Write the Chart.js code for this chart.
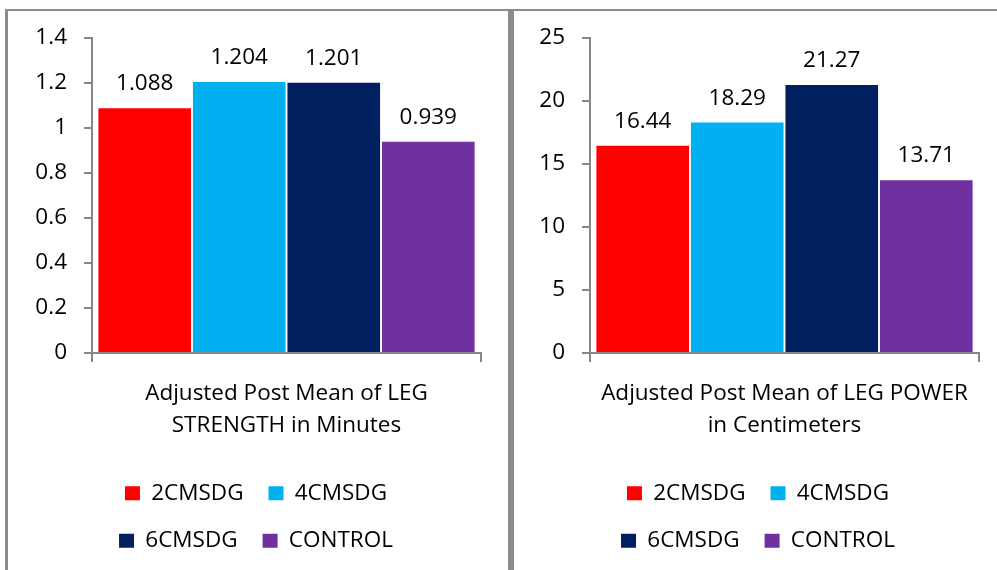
<!DOCTYPE html>
<html lang="en">
<head>
    <meta charset="UTF-8">
    <title>Leg strength and leg power</title>
    <style>
        body { margin: 0; background: #fff; overflow: hidden; width: 997px; height: 570px; position: relative; }
        .panel { position: absolute; top: 9px; height: 600px; width: 500px; border: 3px solid #8c8c8c; border-top-width: 2px; }
        #p1 { left: 5px; }
        #p2 { left: 511px; }
        canvas { position: absolute; left: 0; top: -13px; }
    </style>
</head>
<body>
    <div class="panel" id="p1"><canvas id="strength" width="500" height="572"></canvas></div>
    <div class="panel" id="p2"><canvas id="power" width="483" height="572"></canvas></div>

<script src="https://cdn.jsdelivr.net/npm/chart.js"></script>
    <script>
        // groups (one bar each, in this order)
        const groups = ['2CMSDG', '4CMSDG', '6CMSDG', 'CONTROL']
        const groupColors = ['#FF0000', '#00B0F0', '#002060', '#7030A0']

        // left chart
        const strengthLabel = ['Adjusted Post Mean of LEG', 'STRENGTH in Minutes']
        const strengthValues = [1.088, 1.204, 1.201, 0.939]
        const strengthTicks = [0, 0.2, 0.4, 0.6, 0.8, 1, 1.2, 1.4]

        // right chart
        const powerLabel = ['Adjusted Post Mean of LEG POWER', 'in Centimeters']
        const powerValues = [16.44, 18.29, 21.27, 13.71]
        const powerTicks = [0, 5, 10, 15, 20, 25]

        const fontName = 'Open Sans'
        const fontSize = 22.5
        Chart.defaults.font.family = fontName
        Chart.defaults.font.size = fontSize
        Chart.defaults.color = '#000'

        const axisGray = '#868686'

        // value written above every bar
        const barValueLabels = {
            id: 'barValueLabels',
            afterDatasetsDraw(chart, args, opts) {
                const ctx = chart.ctx
                ctx.save()
                ctx.font = fontSize + 'px "' + fontName + '"'
                ctx.fillStyle = '#000'
                ctx.textAlign = 'center'
                ctx.textBaseline = 'alphabetic'
                chart.data.datasets.forEach((ds, i) => {
                    chart.getDatasetMeta(i).data.forEach((bar, j) => {
                        ctx.fillText(ds.data[j].toFixed(opts.decimals), bar.x, bar.y - 18)
                    })
                })
                ctx.restore()
            }
        }

        // legend wraps after two items, like the original
        const twoPerRowLegend = {
            id: 'twoPerRowLegend',
            beforeLayout(chart) {
                const lg = chart.legend
                if (!lg || lg._twoPerRow) return
                const fitRows = lg._fitRows
                lg._fitRows = function () {
                    const full = this.maxWidth
                    this.maxWidth = 370
                    const h = fitRows.apply(this, arguments)
                    this.maxWidth = full
                    return h
                }
                lg._twoPerRow = true
            }
        }

        function makeChart(id, catLabel, values, ticks, decimals, pad, yWidth) {
            return new Chart(document.getElementById(id), {
                type: 'bar',
                data: {
                    labels: [catLabel],
                    datasets: groups.map((g, i) => ({
                        label: g,
                        data: [values[i]],
                        backgroundColor: groupColors[i],
                        borderWidth: 0,
                        categoryPercentage: 0.972,
                        barPercentage: 0.98
                    }))
                },
                options: {
                    responsive: false,
                    animation: false,
                    layout: { padding: { top: 40, bottom: 8, left: pad.left, right: pad.right } },
                    scales: {
                        x: {
                            border: { color: axisGray, width: 2 },
                            grid: { drawOnChartArea: false, color: axisGray, lineWidth: 2, tickLength: 9 },
                            ticks: { maxRotation: 0, autoSkip: false, padding: 16, font: { lineHeight: 1.42 } },
                            afterFit(scale) { scale.height = 104 }
                        },
                        y: {
                            min: ticks[0],
                            max: ticks[ticks.length - 1],
                            border: { color: axisGray, width: 2 },
                            grid: { drawOnChartArea: false, color: axisGray, lineWidth: 2, tickLength: 8 },
                            ticks: { padding: 17, callback: v => String(v) },
                            afterBuildTicks(scale) { scale.ticks = ticks.map(v => ({ value: v })) },
                            afterFit(scale) { scale.width = yWidth }
                        }
                    },
                    plugins: {
                        legend: {
                            position: 'bottom',
                            labels: { boxWidth: 15, boxHeight: 14, padding: 25 }
                        },
                        tooltip: { enabled: false },
                        barValueLabels: { decimals: decimals }
                    }
                },
                plugins: [barValueLabels, twoPerRowLegend]
            })
        }

        makeChart('strength', strengthLabel, strengthValues, strengthTicks, 3, { left: 23, right: 27 }, 61)
        makeChart('power', powerLabel, powerValues, powerTicks, 2, { left: 23, right: 18 }, 53)
    </script>
</body>
</html>
